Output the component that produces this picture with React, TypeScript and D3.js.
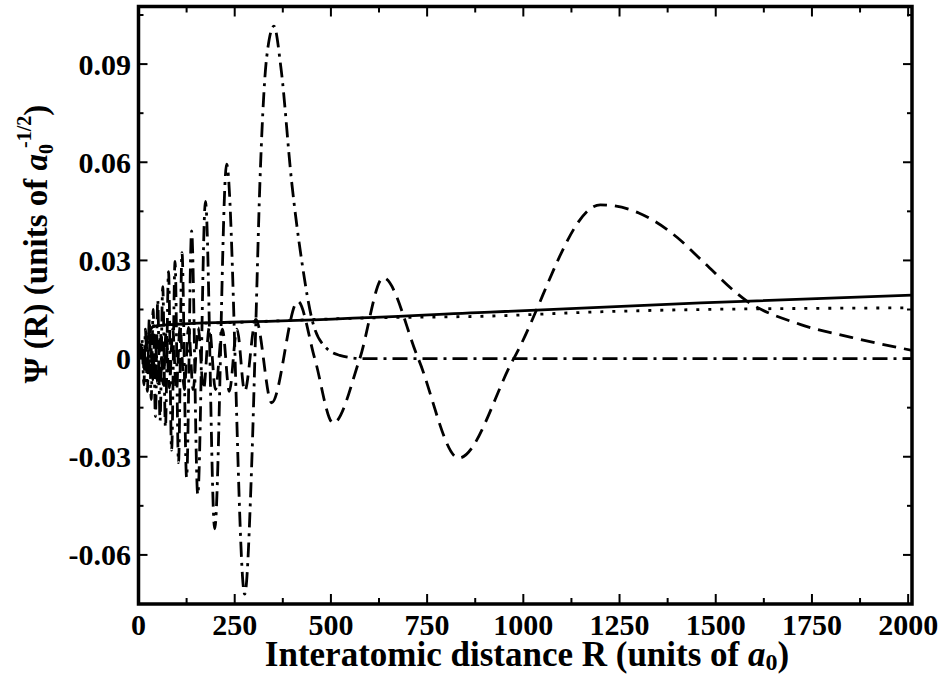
import React from "react";
import * as d3 from "d3";

// ---- tick values / labels ----
const xTicksMajor = [0, 250, 500, 750, 1000, 1250, 1500, 1750, 2000];
const xTicksMinor = [125, 375, 625, 875, 1125, 1375, 1625, 1875];
const yTicksMajor = [-0.06, -0.03, 0, 0.03, 0.06, 0.09];
const yTicksMinor = [-0.075, -0.045, -0.015, 0.015, 0.045, 0.075, 0.105];
const yTickLabels = ["-0.06", "-0.03", "0", "0.03", "0.06", "0.09"];

// ---- series (R in a0, psi in a0^-1/2) ----
const solidR = [20, 30, 41, 100, 237, 336, 914, 1461, 2010];
const solidPsi = [0.004, 0.0085, 0.0099, 0.0105, 0.0111, 0.0114, 0.0142, 0.017, 0.0194];

const dottedR = [20, 30, 41, 100, 237, 583, 914, 1200, 1461, 1700, 2010];
const dottedPsi = [0.004, 0.0085, 0.0099, 0.0105, 0.011, 0.0124, 0.013, 0.0143, 0.015, 0.0153, 0.0155];

const dashedR = [
  6, 10, 15, 20, 25, 31, 37, 43, 50, 57, 64, 72, 80, 89, 98, 108, 119, 130, 142, 155, 169, 184, 200,
  218, 236, 256, 276, 305, 346, 414, 458, 506, 575, 636, 727, 832, 975, 1200, 1300, 1400, 1461, 1582,
  1721, 1852, 2010,
];
const dashedPsi = [
  0, 0.004, -0.0045, 0.005, -0.0055, 0.006, -0.0065, 0.007, -0.0075, 0.008, -0.008, 0.0085, -0.009,
  0.009, -0.0095, 0.0095, -0.0095, 0.0095, -0.0095, 0.0095, -0.0095, 0.0095, -0.0095, 0.009, -0.01,
  0.009, -0.01, 0.012, -0.0135, 0.0175, 0, -0.0197, 0, 0.0247, 0, -0.0304, 0, 0.047, 0.0445, 0.037,
  0.0303, 0.0175, 0.0104, 0.0065, 0.0025,
];

const dashDotR = [
  5, 9, 14, 18, 23, 28, 33, 38, 44, 50, 56, 63, 70, 78, 86, 95, 104, 113, 125, 138, 154, 174, 198,
  229, 276, 294, 305, 315, 323, 333, 352, 370, 398, 424, 453, 490, 523, 580, 2010,
];
const dashDotPsi = [
  0, 0.006, -0.008, 0.009, -0.01, 0.012, -0.0125, 0.015, -0.0177, 0.018, -0.019, 0.022, -0.021,
  0.0266, -0.028, 0.0297, -0.0318, 0.0324, -0.0364, 0.039, -0.0416, 0.048, -0.052, 0.0594, -0.072,
  -0.033, 0.011, 0.052, 0.075, 0.092, 0.1016, 0.089, 0.054, 0.03, 0.011, 0.003, 0.001, 0, 0,
];

const W = 941;
const H = 675;
const left = 138.5;
const right = 912;
const top = 6.5;
const bottom = 604;

export default function App() {
  const x = d3.scaleLinear().domain([0, 2010]).range([left, right]);
  const y = d3.scaleLinear().domain([-0.075, 0.1076]).range([bottom, top]);

  const mk = (rs: number[], ps: number[]) =>
    d3
      .line<number>()
      .x((_, i) => x(rs[i]))
      .y((_, i) => y(ps[i]))
      .curve(d3.curveMonotoneX)(rs) || "";

  const font = "'Liberation Serif', 'Times New Roman', serif";
  const lw = 2.8;

  return (
    <svg
      width={W}
      height={H}
      style={{ position: "absolute", left: 0, top: 0, background: "#fff" }}
      fontFamily={font}
      fontWeight="bold"
    >
      <defs>
        <clipPath id="plot">
          <rect x={left} y={top} width={right - left} height={bottom - top} />
        </clipPath>
      </defs>
      <g clipPath="url(#plot)" fill="none" stroke="#000" strokeWidth={lw}>
        <path d={mk(dashDotR, dashDotPsi)} strokeDasharray="15,6,3,6" />
        <path d={mk(dashedR, dashedPsi)} strokeDasharray="14,8" />
        <path d={mk(dottedR, dottedPsi)} strokeDasharray="3,9" />
        <path d={mk(solidR, solidPsi)} />
      </g>

      {/* ticks */}
      <g stroke="#000" strokeWidth={2}>
        {xTicksMajor.map((t) => (
          <g key={"xM" + t}>
            <line x1={x(t)} x2={x(t)} y1={bottom} y2={bottom - 10} />
            <line x1={x(t)} x2={x(t)} y1={top} y2={top + 10} />
          </g>
        ))}
        {xTicksMinor.map((t) => (
          <g key={"xm" + t}>
            <line x1={x(t)} x2={x(t)} y1={bottom} y2={bottom - 6} />
            <line x1={x(t)} x2={x(t)} y1={top} y2={top + 6} />
          </g>
        ))}
        {yTicksMajor.map((t) => (
          <g key={"yM" + t}>
            <line x1={left} x2={left + 9} y1={y(t)} y2={y(t)} />
            <line x1={right} x2={right - 9} y1={y(t)} y2={y(t)} />
          </g>
        ))}
        {yTicksMinor.map((t) => (
          <g key={"ym" + t}>
            <line x1={left} x2={left + 5} y1={y(t)} y2={y(t)} />
            <line x1={right} x2={right - 5} y1={y(t)} y2={y(t)} />
          </g>
        ))}
      </g>

      {/* frame */}
      <rect
        x={left}
        y={top}
        width={right - left}
        height={bottom - top}
        fill="none"
        stroke="#000"
        strokeWidth={3.5}
      />

      {/* tick labels */}
      <g fontSize={30} fill="#000">
        {xTicksMajor.map((t) => (
          <text key={"xl" + t} x={x(t)} y={635} textAnchor="middle">
            {String(t)}
          </text>
        ))}
        {yTicksMajor.map((t, i) => (
          <text key={"yl" + t} x={131} y={y(t) + 10.5} textAnchor="end">
            {yTickLabels[i]}
          </text>
        ))}
      </g>

      {/* x title */}
      <text x={527} y={666} textAnchor="middle" fontSize={35} fill="#000">
        Interatomic distance R (units of <tspan fontStyle="italic">a</tspan>
        <tspan fontSize={24} dy={4}>0</tspan>
        <tspan dy={-4}>)</tspan>
      </text>

      {/* y title */}
      <text
        transform="translate(47,244) rotate(-90)"
        textAnchor="middle"
        fontSize={33}
        fill="#000"
      >
        Ψ (R)  (units of <tspan fontStyle="italic">a</tspan>
        <tspan fontSize={20} dy={6}>0</tspan>
        <tspan fontSize={20} dy={-22} dx={-4}>-1/2</tspan>
        <tspan dy={16}>)</tspan>
      </text>
    </svg>
  );
}
